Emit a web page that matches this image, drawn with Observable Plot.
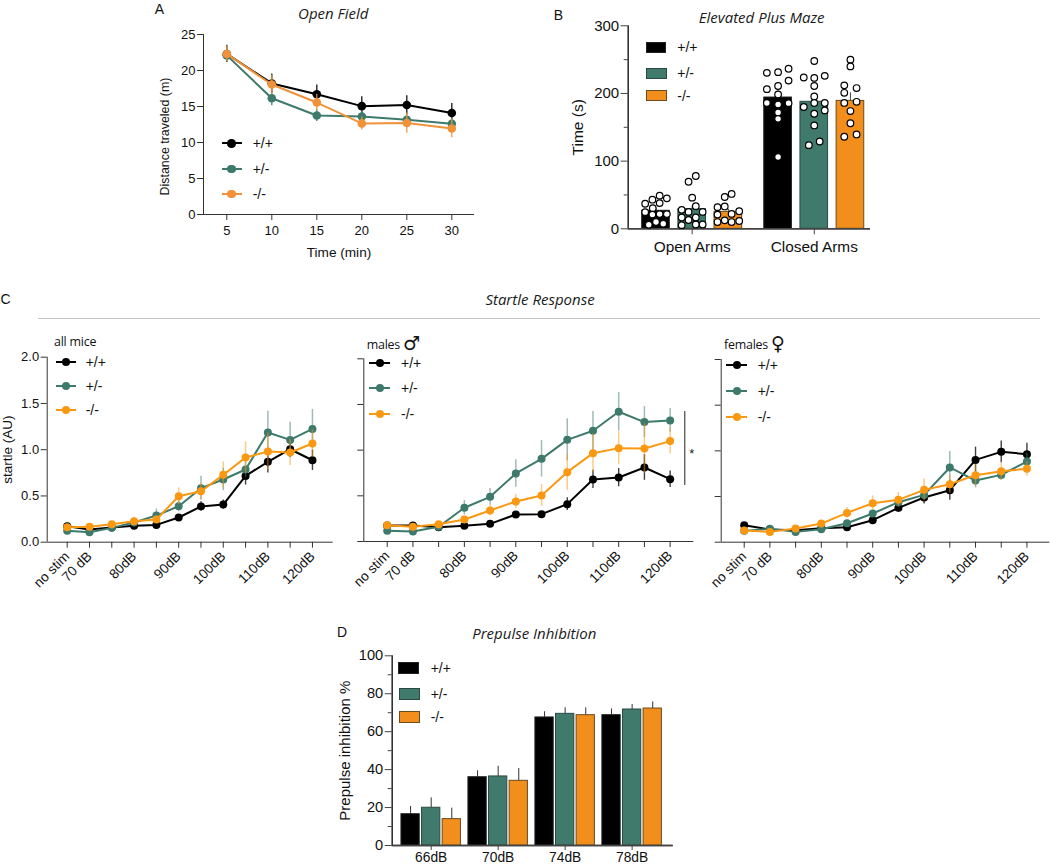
<!DOCTYPE html>
<html><head><meta charset="utf-8">
<script src="https://cdn.jsdelivr.net/npm/d3@7"></script>
<script src="https://cdn.jsdelivr.net/npm/@observablehq/plot@0.6"></script>
<style>
html,body{margin:0;padding:0;background:#fff}
#root{position:relative;width:1050px;height:866px;overflow:hidden;font-family:"Liberation Sans",Arial,sans-serif;color:#111}
#root svg{position:absolute;background:transparent}
.t{position:absolute;white-space:nowrap;transform:translate(-50%,-50%);line-height:1}
.it{font-family:"Open Sans",sans-serif;font-style:italic;font-size:15px;color:#1a1a1a}
.pl{font-family:"Liberation Sans",sans-serif;font-size:14px}
.lg{font-size:14px;transform:translate(0,-50%)}
.sm{font-family:"Open Sans",sans-serif;font-size:12.4px;transform:translate(0,-50%);letter-spacing:-.2px}
.sym{font-family:"DejaVu Sans",sans-serif;font-size:19px;font-style:normal;letter-spacing:0;vertical-align:-1px;margin-left:3px}
.ln,.dt,.sw{position:absolute}
</style></head><body><div id="root"></div>
<script>
const genotypes = ["+/+","+/-","-/-"];
const lineColors = ["#000000","#3d7a6b","#f0923a"];
const startleColors = ["#000000","#3d7a6b","#fb9812"];
const barColors = ["#000000","#3f7a6c","#f28e1c"];
const barStrokes = ["#222222","#2b4a44","#6a4a1e"];

// A — Open Field
const minutes = [5,10,15,20,25,30];
const ofWT  = [22.3,18.2,16.7,15.05,15.2,14.1];
const ofHet = [22.1,16.15,13.75,13.6,13.15,12.6];
const ofKO  = [22.3,18.05,15.55,12.65,12.7,11.95];
const ofWTe  = [1.2,1.3,1.3,1.3,1.3,1.3];
const ofHete = [.9,1.05,.85,.8,.8,.8];
const ofKOe  = [1.1,1.3,1.1,.9,1.4,1.3];

// B — Elevated Plus Maze
const arms = ["Open Arms","Closed Arms"];
const epmMeans = [[26.6,29,25],[194,187.7,189]];
const epmErrs  = [[4,4.5,4],[10,11,12]];
// each animal: [offset within the bar, time]
const epmOpenWT = [[.10,49],[.30,45],[-.10,43],[-.30,37],[.10,38],[-.09,30.5],[-.30,24.6],[-.10,21],[.10,21.7],[.30,21.7],[0,10],[.20,7.4],[-.20,6]];
const epmOpenHet = [[.10,78],[-.10,69.5],[0,46],[.10,33.5],[-.29,28],[-.10,25],[.29,25],[-.29,16.7],[-.10,13],[.10,16.7],[-.29,5.4],[.10,6.4],[.29,6.4]];
const epmOpenKO = [[.09,51.5],[-.10,47],[-.30,32],[-.10,33],[-.30,21],[.09,22],[.30,26],[-.30,10],[-.10,12.5],[.09,10],[.30,11.5]];
const epmClosedWT = [[-.31,230.5],[0,231.5],[.29,236.5],[.29,219],[-.31,206.4],[0,211],[0,198.5],[-.31,186],[0,183.7],[.29,185.7],[0,172],[0,162.5],[0,106]];
const epmClosedHet = [[0,248],[-.29,223.6],[0,223],[.29,226],[0,211],[0,195.6],[0,186],[-.29,180],[.29,186],[.29,175],[0,170],[0,152.7],[.15,129],[-.15,123.6]];
const epmClosedKO = [[0,250],[0,240],[-.17,212],[-.17,201],[.17,208],[-.17,186],[.17,187.7],[0,174],[0,156],[-.17,136],[.17,139.4]];

// C — Startle Response
const stimLabels = ["no stim","70 dB","","80dB","","90dB","","100dB","","110dB","","120dB"];
const allWT  = [.173,.137,.159,.177,.187,.267,.386,.407,.717,.869,1.005,.886];
const allHet = [.123,.108,.155,.213,.288,.389,.584,.678,.786,1.186,1.106,1.225];
const allKO  = [.162,.166,.195,.227,.245,.497,.551,.728,.915,.98,.97,1.067];
const allWTe  = [.02,.02,.02,.03,.03,.03,.05,.05,.1,.12,.09,.11];
const allHete = [.02,.02,.02,.05,.07,.06,.13,.12,.09,.23,.19,.21];
const allKOe  = [.02,.02,.02,.03,.04,.09,.09,.14,.17,.2,.14,.15];
const maleWT  = [.175,.175,.157,.172,.193,.296,.299,.409,.679,.70,.81,.682];
const maleHet = [.117,.109,.161,.369,.489,.745,.905,1.113,1.212,1.42,1.307,1.325];
const maleKO  = [.179,.161,.19,.241,.339,.438,.504,.759,.967,1.022,1.018,1.099];
const maleWTe  = [.02,.02,.02,.02,.02,.03,.02,.07,.1,.1,.14,.09];
const maleHete = [.02,.02,.02,.08,.09,.15,.2,.23,.21,.21,.17,.13];
const maleKOe  = [.02,.02,.02,.03,.06,.08,.12,.2,.21,.18,.27,.14];
const femWT  = [.186,.139,.131,.153,.164,.241,.376,.489,.569,.901,.989,.964];
const femHet = [.124,.146,.113,.142,.208,.314,.438,.518,.818,.675,.737,.883];
const femKO  = [.128,.113,.15,.204,.321,.427,.464,.573,.635,.734,.777,.803];
const femWTe  = [.02,.02,.02,.02,.03,.03,.05,.07,.11,.14,.12,.12];
const femHete = [.02,.02,.02,.02,.03,.03,.04,.05,.175,.08,.06,.09];
const femKOe  = [.02,.02,.02,.03,.06,.08,.08,.12,.1,.12,.1,.08];
const sigBracket = {x:11.57, y1:.613, y2:1.423, star:.96};

// D — Prepulse Inhibition
const prepulses = ["66dB","70dB","74dB","78dB"];
const ppiWT  = [16.5,36,67.5,68.7];
const ppiHet = [19.9,36.4,69.4,71.7];
const ppiKO  = [13.9,34.1,68.7,72.2];
const ppiWTe  = [4.1,3.4,3,3.3];
const ppiHete = [5.2,5.4,3.2,2.6];
const ppiKOe  = [5.8,6.5,3.9,3.5];

const root = document.getElementById("root");
const AX = "#333333";
const sansFont = '"Liberation Sans",Arial,sans-serif';

function place(plotOpts, box){
  const svg = Plot.plot({
    ...plotOpts,
    width: box.W, height: box.H,
    marginLeft: box.ax - box.L,
    marginRight: box.L + box.W - box.right,
    marginTop: box.top - box.T,
    marginBottom: box.T + box.H - box.base,
    style:{fontFamily:sansFont,background:"transparent",color:"#111",overflow:"visible"}
  });
  svg.style.left = box.L+"px"; svg.style.top = box.T+"px";
  root.appendChild(svg);
}
function txt(s,x,y,cls){
  const d=document.createElement("div");d.className="t "+cls;
  d.style.left=x+"px";d.style.top=y+"px";
  d.textContent=s;root.appendChild(d);
}
function legendLines(colors,lx1,lx2,dx,tx,ys,r,w){
  genotypes.forEach((g,i)=>{
    const l=document.createElement("div");l.className="ln";
    l.style.cssText=`left:${lx1}px;top:${ys[i]-w/2}px;width:${lx2-lx1}px;height:${w}px;background:${colors[i]}`;root.appendChild(l);
    const c=document.createElement("div");c.className="dt";
    c.style.cssText=`left:${dx-r}px;top:${ys[i]-r}px;width:${2*r}px;height:${2*r}px;border-radius:50%;background:${colors[i]}`;root.appendChild(c);
    txt(g,tx,ys[i],"lg");
  });
}
function legendBars(xs,ws,ys,hs,tx,tys){
  genotypes.forEach((g,i)=>{
    const s=document.createElement("div");s.className="sw";
    s.style.cssText=`left:${xs[i]}px;top:${ys[i]}px;width:${ws}px;height:${hs}px;box-sizing:border-box;background:${barColors[i]};border:1px solid ${barStrokes[i]}`;root.appendChild(s);
    txt(g,tx,tys[i],"lg");
  });
}
const labelY=(s,dx,fs,dy=0)=>Plot.text([s],{text:d=>d,frameAnchor:"left",rotate:-90,dx,dy,textAnchor:"middle",lineAnchor:"middle",fontSize:fs,fill:"#111"});
const labelX=(s,dy,fs)=>Plot.text([s],{text:d=>d,frameAnchor:"bottom",dy,textAnchor:"middle",lineAnchor:"middle",fontSize:fs,fill:"#111"});
const axisLines=(xd,yd,sw)=>[Plot.ruleX([xd],{stroke:AX,strokeWidth:sw}),Plot.ruleY([yd],{stroke:AX,strokeWidth:sw})];
const rows=(xs,ys,es)=>xs.map((x,i)=>({x,y:ys[i],e:es[i]}));

function lineSeries(xs,ys,es,color,opts){
  const d=rows(xs,ys,es);
  return [
    Plot.ruleX(d,{x:"x",y1:v=>v.y-v.e,y2:v=>v.y+v.e,stroke:color,strokeWidth:opts.ew,strokeOpacity:opts.eo}),
    Plot.line(d,{x:"x",y:"y",stroke:color,strokeWidth:opts.lw}),
    Plot.dot(d,{x:"x",y:"y",fill:color,stroke:"none",r:opts.r})
  ];
}

/* ---------- A ---------- */
place({
  x:{type:"linear",domain:[2.41,32.52]},
  y:{domain:[0,25]},
  marks:[
    ...axisLines(2.41,0,1),
    Plot.axisY({ticks:[0,5,10,15,20,25],tickSize:6,tickPadding:2,fontSize:13,label:null,stroke:AX}),
    Plot.axisX({ticks:minutes,tickSize:6,tickPadding:5,fontSize:13,label:null,stroke:AX}),
    labelY("Distance traveled (m)",-38,12.4,12),
    labelX("Time (min)",38,13.6),
    ...lineSeries(minutes,ofWT,ofWTe,lineColors[0],{ew:1.2,eo:1,lw:2,r:4.3}),
    ...lineSeries(minutes,ofHet,ofHete,lineColors[1],{ew:1.2,eo:1,lw:2,r:4.3}),
    ...lineSeries(minutes,ofKO,ofKOe,lineColors[2],{ew:1.2,eo:1,lw:2,r:4.3})
  ]
},{L:140,T:20,W:350,H:246,ax:203,right:474,top:34,base:214});
legendLines(lineColors,221.7,241.7,231.7,252.7,[143.3,169,194],4.3,2);

/* ---------- B ---------- */
const groupGapB = 3.375, halfB = .382;
const epmBars = arms.flatMap((a,g)=>genotypes.map((t,i)=>({pos:g*groupGapB+i,v:epmMeans[g][i],e:epmErrs[g][i],i})));
const epmSets = [[epmOpenWT,0,0],[epmOpenHet,0,1],[epmOpenKO,0,2],[epmClosedWT,1,0],[epmClosedHet,1,1],[epmClosedKO,1,2]];
const epmDots = epmSets.flatMap(([set,g,i])=>set.map(([o,v])=>({x:g*groupGapB+i+o,v})));
place({
  x:{type:"linear",domain:[-.769,5.93]},
  y:{domain:[0,300]},
  marks:[
    ...axisLines(-.769,0,1.6),
    Plot.axisY({ticks:[0,100,200,300],tickSize:7,tickPadding:2,fontSize:15,label:null,stroke:"#444"}),
    Plot.axisY({ticks:[50,150,250],tickSize:4,text:null,tickFormat:()=>"",label:null,stroke:"#444"}),
    Plot.axisX({ticks:arms.map((a,g)=>g*groupGapB+1),tickFormat:v=>arms[Math.round((v-1)/groupGapB)],tickSize:6,tickPadding:6,fontSize:15.4,label:null,stroke:"#444"}),
    labelY("Time (s)",-50,15.5),
    Plot.ruleX(epmBars,{x:"pos",y1:"v",y2:d=>d.v+d.e,stroke:"#444",strokeWidth:1}),
    Plot.rect(epmBars,{x1:d=>d.pos-halfB,x2:d=>d.pos+halfB,y1:0,y2:"v",fill:d=>barColors[d.i],stroke:d=>barStrokes[d.i],strokeWidth:1}),
    Plot.ruleY([0],{stroke:"#444",strokeWidth:1.6}),
    Plot.dot(epmDots,{x:"x",y:"v",r:3.3,fill:"#fff",stroke:"#000",strokeWidth:1.2})
  ]
},{L:555,T:12,W:330,H:250,ax:627.7,right:870,top:25.3,base:228.3});
legendBars([645.7,646.3,646.3],20.5,[42,68,90],11,677.3,[47.3,73.3,95.7]);

/* ---------- C ---------- */
const stimIdx = stimLabels.map((_,i)=>i);
const startleOpts = {ew:1.5,eo:.5,lw:2,r:4};
const wtOpts = {ew:1.4,eo:.75,lw:2,r:4};
function startle(box,xdom,wt,het,ko,wte,hete,koe,withLabels,extra){
  place({
    x:{type:"linear",domain:xdom},
    y:{domain:[0,2]},
    marks:[
      ...axisLines(xdom[0],0,1),
      withLabels
        ? Plot.axisY({ticks:[0,.5,1,1.5,2],tickSize:6,tickPadding:2,fontSize:13,label:null,stroke:AX,tickFormat:v=>v.toFixed(1)})
        : Plot.axisY({ticks:[0,.5,1,1.5,2],tickSize:6,text:null,tickFormat:()=>"",label:null,stroke:AX}),
      Plot.axisX({ticks:stimIdx,tickFormat:i=>stimLabels[i],tickRotate:-45,tickSize:6,tickPadding:6,fontSize:13.6,label:null,stroke:AX}),
      ...(withLabels?[labelY("startle (AU)",-40,13.5)]:[]),
      ...lineSeries(stimIdx,wt,wte,startleColors[0],wtOpts),
      ...lineSeries(stimIdx,het,hete,startleColors[1],startleOpts),
      ...lineSeries(stimIdx,ko,koe,startleColors[2],startleOpts),
      ...(extra||[])
    ]
  },box);
}
startle({L:0,T:350,W:340,H:250,ax:46.7,right:332.7,top:356.7,base:541.7},[-.897,11.93],allWT,allHet,allKO,allWTe,allHete,allKOe,true);
startle({L:345,T:350,W:355,H:250,ax:363.3,right:693.3,top:358.3,base:541},[-.91,11.92],maleWT,maleHet,maleKO,maleWTe,maleHete,maleKOe,false,[
  Plot.ruleX([sigBracket],{x:"x",y1:"y1",y2:"y2",stroke:"#222",strokeWidth:1}),
  Plot.text([sigBracket],{x:d=>d.x+.27,y:"star",text:()=>"*",fontSize:13,fill:"#222"})
]);
startle({L:702,T:350,W:348,H:250,ax:720.7,right:1049.3,top:359,base:541.7},[-.895,11.89],femWT,femHet,femKO,femWTe,femHete,femKOe,false);
legendLines(startleColors,56,76,66,85.7,[362,386,410],4,2);
legendLines(startleColors,369,390,379.7,401,[362.7,388.3,414.3],4,2);
legendLines(startleColors,726,747.3,736.7,757.7,[365,390.7,416.7],4,2);

/* ---------- D ---------- */
const groupGapD = 3.252, halfD = .444;
const ppiVals=[ppiWT,ppiHet,ppiKO], ppiErrs=[ppiWTe,ppiHete,ppiKOe];
const ppiBars = prepulses.flatMap((p,g)=>genotypes.map((t,i)=>({pos:g*groupGapD+i,v:ppiVals[i][g],e:ppiErrs[i][g],i})));
place({
  x:{type:"linear",domain:[-.893,12.75]},
  y:{domain:[0,100]},
  marks:[
    ...axisLines(-.893,0,1.6),
    Plot.axisY({ticks:[0,20,40,60,80,100],tickSize:7,tickPadding:2,fontSize:14.6,label:null,stroke:"#444"}),
    Plot.axisY({ticks:[10,30,50,70,90],tickSize:4,text:null,tickFormat:()=>"",label:null,stroke:"#444"}),
    Plot.axisX({ticks:prepulses.map((p,g)=>g*groupGapD+1),tickFormat:v=>prepulses[Math.round((v-1)/groupGapD)],tickSize:5,tickPadding:2,fontSize:13.8,label:null,stroke:"#444"}),
    labelY("Prepulse inhibition %",-47,15),
    Plot.ruleX(ppiBars,{x:"pos",y1:"v",y2:d=>d.v+d.e,stroke:"#333",strokeWidth:1}),
    Plot.rect(ppiBars,{x1:d=>d.pos-halfD,x2:d=>d.pos+halfD,y1:0,y2:"v",fill:d=>barColors[d.i],stroke:d=>barStrokes[d.i],strokeWidth:1}),
    Plot.ruleY([0],{stroke:"#444",strokeWidth:1.6})
  ]
},{L:330,T:645,W:360,H:221,ax:391.7,right:672.7,top:655.3,base:845});
legendBars([398,399.3,399.3],21,[662,688.3,711.3],11.5,430.7,[667.7,694.3,716.7]);

/* ---------- page text ---------- */
txt("A",159.5,8.6,"pl"); txt("B",558.5,15,"pl"); txt("C",5.5,299,"pl"); txt("D",342,632,"pl");
txt("Open Field",333.3,13.3,"it");
txt("Elevated Plus Maze",761.7,16.7,"it");
txt("Startle Response",540,299,"it");
txt("Prepulse Inhibition",534.3,633,"it");
const sep=document.createElement("div");
sep.style.cssText="position:absolute;left:38px;top:318px;width:1002px;height:1px;background:#c4c4c4";root.appendChild(sep);
function lab(s,x,y){const d=document.createElement("div");d.className="t sm";d.style.left=x+"px";d.style.top=y+"px";d.innerHTML=s;root.appendChild(d);}
lab("all mice",54,341.7);
lab('males<span class="sym">♂</span>',366.7,343.3);
lab('females<span class="sym">♀</span>',724,343.3);
</script></body></html>
